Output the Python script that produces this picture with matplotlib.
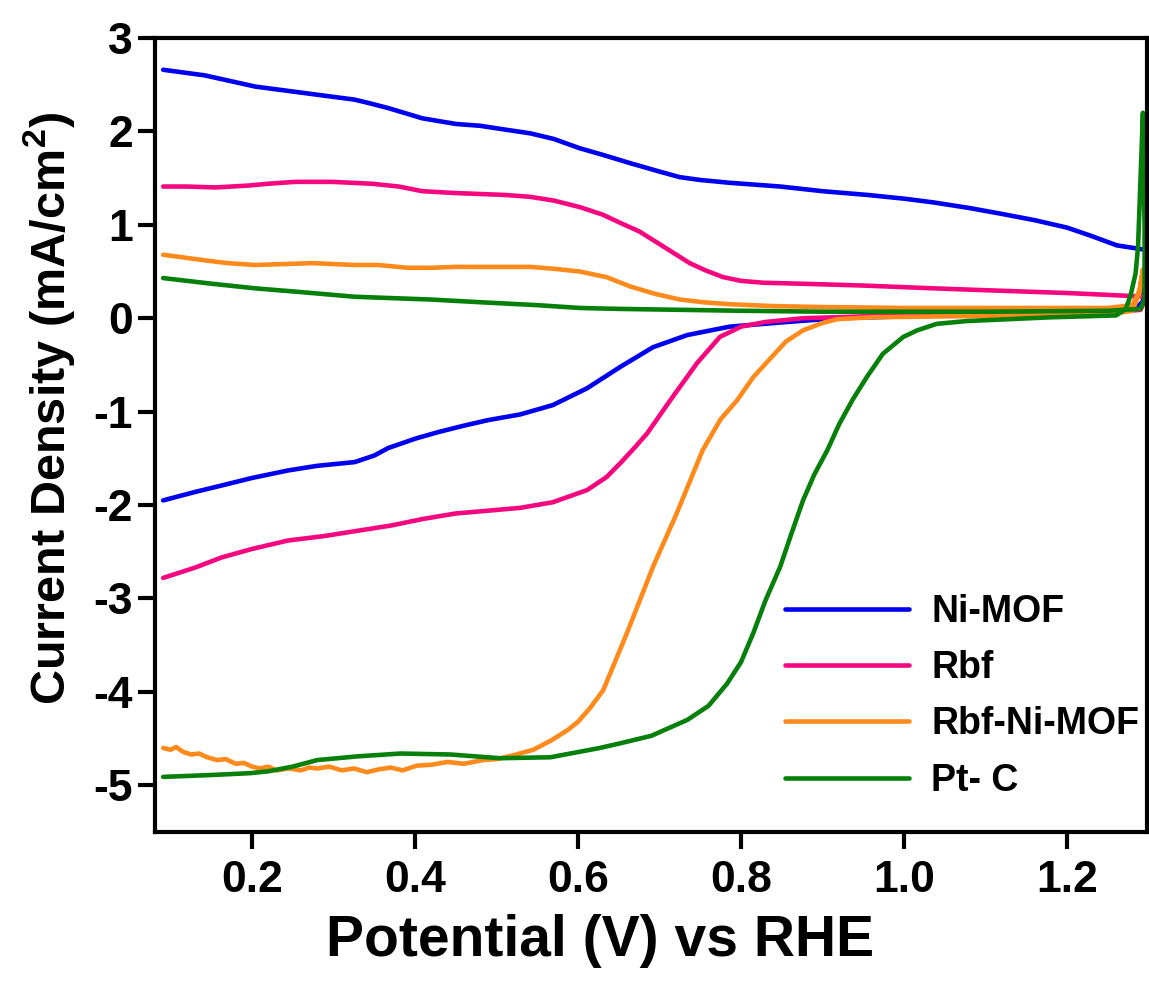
import numpy as np
import matplotlib
matplotlib.use('Agg')
import matplotlib.pyplot as plt

plt.rcParams['font.family'] = ['Liberation Sans', 'DejaVu Sans']
plt.rcParams['font.weight'] = 'bold'
plt.rcParams['axes.unicode_minus'] = False
plt.rcParams['mathtext.fontset'] = 'custom'
plt.rcParams['mathtext.bf'] = 'Liberation Sans:bold'
plt.rcParams['mathtext.rm'] = 'Liberation Sans:bold'

labels = ['Ni-MOF', 'Rbf', 'Rbf-Ni-MOF', 'Pt- C']
colors = ['#0000f0', '#f5087f', '#ff8a1c', '#06800a']

# Ni-MOF: cathodic sweep then return sweep
nimof_fwd_v = [0.091, 0.13, 0.163, 0.20, 0.244, 0.28, 0.326, 0.35, 0.367, 0.40, 0.428, 0.46, 0.49,
               0.529, 0.569, 0.611, 0.652, 0.692, 0.734, 0.786, 0.856, 0.918, 1.0, 1.1, 1.2, 1.26,
               1.285, 1.293]
nimof_fwd_j = [-1.95, -1.86, -1.79, -1.71, -1.63, -1.58, -1.54, -1.47, -1.39, -1.29, -1.22, -1.15, -1.09,
               -1.03, -0.93, -0.75, -0.52, -0.31, -0.18, -0.09, -0.04, 0.0, 0.02, 0.04, 0.06, 0.08,
               0.11, 0.18]
nimof_rev_v = [1.298, 1.261, 1.23, 1.2, 1.16, 1.118, 1.08, 1.036, 1.0, 0.955, 0.9, 0.848, 0.786, 0.75,
               0.725, 0.7, 0.664, 0.63, 0.602, 0.57, 0.541, 0.51, 0.48, 0.45, 0.409, 0.39, 0.367, 0.345,
               0.326, 0.265, 0.204, 0.142, 0.091]
nimof_rev_j = [0.73, 0.78, 0.88, 0.97, 1.05, 1.12, 1.18, 1.24, 1.28, 1.32, 1.36, 1.41, 1.45, 1.48,
               1.51, 1.57, 1.66, 1.75, 1.82, 1.92, 1.98, 2.02, 2.06, 2.08, 2.14, 2.19, 2.25, 2.30,
               2.34, 2.41, 2.48, 2.60, 2.66]

# Rbf
rbf_fwd_v = [0.091, 0.13, 0.163, 0.20, 0.244, 0.29, 0.326, 0.37, 0.409, 0.45, 0.49, 0.529, 0.569, 0.611,
             0.635, 0.652, 0.67, 0.685, 0.713, 0.746, 0.774, 0.80, 0.83, 0.876, 0.95, 1.05, 1.15, 1.25,
             1.29, 1.296]
rbf_fwd_j = [-2.78, -2.67, -2.56, -2.47, -2.38, -2.33, -2.28, -2.22, -2.15, -2.09, -2.06, -2.03, -1.97, -1.84,
             -1.70, -1.55, -1.38, -1.23, -0.88, -0.48, -0.20, -0.09, -0.04, 0.0, 0.02, 0.03, 0.04, 0.06,
             0.09, 0.20]
rbf_rev_v = [1.298, 1.25, 1.2, 1.1, 1.036, 0.95, 0.872, 0.827, 0.80, 0.778, 0.757, 0.737, 0.717, 0.697,
             0.675, 0.652, 0.63, 0.602, 0.57, 0.541, 0.51, 0.48, 0.45, 0.409, 0.38, 0.347, 0.298, 0.253,
             0.22, 0.195, 0.155, 0.12, 0.091]
rbf_rev_j = [0.23, 0.25, 0.27, 0.30, 0.32, 0.35, 0.37, 0.38, 0.40, 0.44, 0.51, 0.59, 0.70, 0.81,
             0.93, 1.02, 1.11, 1.19, 1.26, 1.30, 1.32, 1.33, 1.34, 1.36, 1.41, 1.44, 1.46, 1.46,
             1.44, 1.42, 1.40, 1.41, 1.41]

# Rbf-Ni-MOF
rnm_fwd_v = [0.091, 0.10, 0.107, 0.115, 0.125, 0.135, 0.145, 0.157, 0.168, 0.18, 0.19, 0.20, 0.21, 0.22,
             0.23, 0.245, 0.26, 0.27, 0.28, 0.295, 0.31, 0.325, 0.341, 0.355, 0.37, 0.385, 0.402, 0.42,
             0.44, 0.46, 0.483, 0.50, 0.52, 0.545, 0.567, 0.587, 0.60, 0.615, 0.631, 0.66, 0.692, 0.721,
             0.753, 0.775, 0.795, 0.815, 0.836, 0.855, 0.876, 0.90, 0.918, 0.96, 1.05, 1.15, 1.25, 1.28,
             1.288, 1.293]
rnm_fwd_j = [-4.60, -4.62, -4.59, -4.64, -4.67, -4.66, -4.70, -4.73, -4.72, -4.77, -4.76, -4.80, -4.82, -4.80,
             -4.84, -4.82, -4.84, -4.81, -4.82, -4.80, -4.84, -4.82, -4.86, -4.83, -4.81, -4.84, -4.79, -4.78,
             -4.75, -4.77, -4.73, -4.72, -4.68, -4.62, -4.52, -4.41, -4.32, -4.17, -3.98, -3.37, -2.66, -2.09,
             -1.41, -1.08, -0.88, -0.63, -0.43, -0.25, -0.13, -0.05, -0.01, 0.01, 0.02, 0.03, 0.04, 0.08,
             0.25, 0.52]
rnm_rev_v = [1.293, 1.289, 1.28, 1.25, 1.1, 1.0, 0.897, 0.84, 0.786, 0.755, 0.725, 0.695, 0.664, 0.635,
             0.602, 0.57, 0.541, 0.50, 0.483, 0.45, 0.42, 0.391, 0.355, 0.326, 0.274, 0.24, 0.204, 0.17,
             0.142, 0.091]
rnm_rev_j = [0.52, 0.30, 0.14, 0.11, 0.11, 0.11, 0.12, 0.13, 0.15, 0.17, 0.20, 0.26, 0.34, 0.44,
             0.50, 0.53, 0.55, 0.55, 0.55, 0.55, 0.54, 0.54, 0.57, 0.57, 0.59, 0.58, 0.57, 0.59,
             0.62, 0.68]

# Pt-C
ptc_fwd_v = [0.091, 0.15, 0.198, 0.22, 0.25, 0.28, 0.33, 0.382, 0.443, 0.504, 0.566, 0.627, 0.652, 0.69,
             0.734, 0.76, 0.783, 0.80, 0.815, 0.83, 0.848, 0.862, 0.876, 0.89, 0.906, 0.92, 0.937, 0.955,
             0.974, 0.999, 1.016, 1.04, 1.077, 1.18, 1.26, 1.272, 1.278, 1.284, 1.287, 1.29, 1.293]
ptc_fwd_j = [-4.91, -4.89, -4.87, -4.85, -4.80, -4.73, -4.69, -4.66, -4.67, -4.71, -4.70, -4.60, -4.55, -4.47,
             -4.30, -4.15, -3.91, -3.68, -3.37, -3.02, -2.66, -2.30, -1.95, -1.67, -1.41, -1.14, -0.87, -0.62,
             -0.38, -0.20, -0.13, -0.06, -0.03, 0.01, 0.03, 0.10, 0.25, 0.48, 0.76, 1.48, 2.20]
ptc_rev_v = [1.295, 1.295, 1.29, 1.25, 1.1, 0.9, 0.8, 0.725, 0.65, 0.602, 0.55, 0.483, 0.42, 0.326,
             0.26, 0.204, 0.15, 0.091]
ptc_rev_j = [1.0, 0.2, 0.10, 0.08, 0.07, 0.07, 0.08, 0.09, 0.10, 0.11, 0.14, 0.17, 0.20, 0.23,
             0.28, 0.32, 0.37, 0.43]

curves = [
    (nimof_fwd_v + nimof_rev_v, nimof_fwd_j + nimof_rev_j),
    (rbf_fwd_v + rbf_rev_v, rbf_fwd_j + rbf_rev_j),
    (rnm_fwd_v + rnm_rev_v, rnm_fwd_j + rnm_rev_j),
    (ptc_fwd_v + ptc_rev_v, ptc_fwd_j + ptc_rev_j),
]

fig = plt.figure(figsize=(11.49, 9.81), dpi=100)
ax = fig.add_axes([155/1149, 1 - 832/981, (1147-155)/1149, (832-38)/981])

for (v, j), lab, c in zip(curves, labels, colors):
    ax.plot(v, j, color=c, lw=3.3, label=lab, solid_joinstyle='round', solid_capstyle='round')

ax.set_xlim(0.081, 1.298)
ax.set_ylim(-5.5, 3)
ax.set_xticks([0.2, 0.4, 0.6, 0.8, 1.0, 1.2])
ax.set_xticklabels(['0.2', '0.4', '0.6', '0.8', '1.0', '1.2'])
ax.set_yticks([-5, -4, -3, -2, -1, 0, 1, 2, 3])

for s in ax.spines.values():
    s.set_linewidth(3)
ax.tick_params(axis='both', direction='out', width=3, length=12, labelsize=32)
ax.tick_params(axis='x', pad=8)
ax.tick_params(axis='y', pad=4)

ax.set_xlabel('Potential (V) vs RHE', fontsize=41, fontweight='bold')
ax.set_ylabel(r'Current Density (mA/cm$^{\mathbf{2}}$)', fontsize=35, fontweight='bold')
ax.xaxis.set_label_coords(0.449, -0.103)
ax.yaxis.set_label_coords(-0.078, 0.534)

leg = ax.legend(loc='upper left', bbox_to_anchor=(785/1149, 1 - 594/981), bbox_transform=fig.transFigure,
                frameon=False, fontsize=27, handlelength=3.3, handletextpad=0.6, labelspacing=0.54,
                borderpad=0, borderaxespad=0)

plt.savefig('out.png', dpi=100)
